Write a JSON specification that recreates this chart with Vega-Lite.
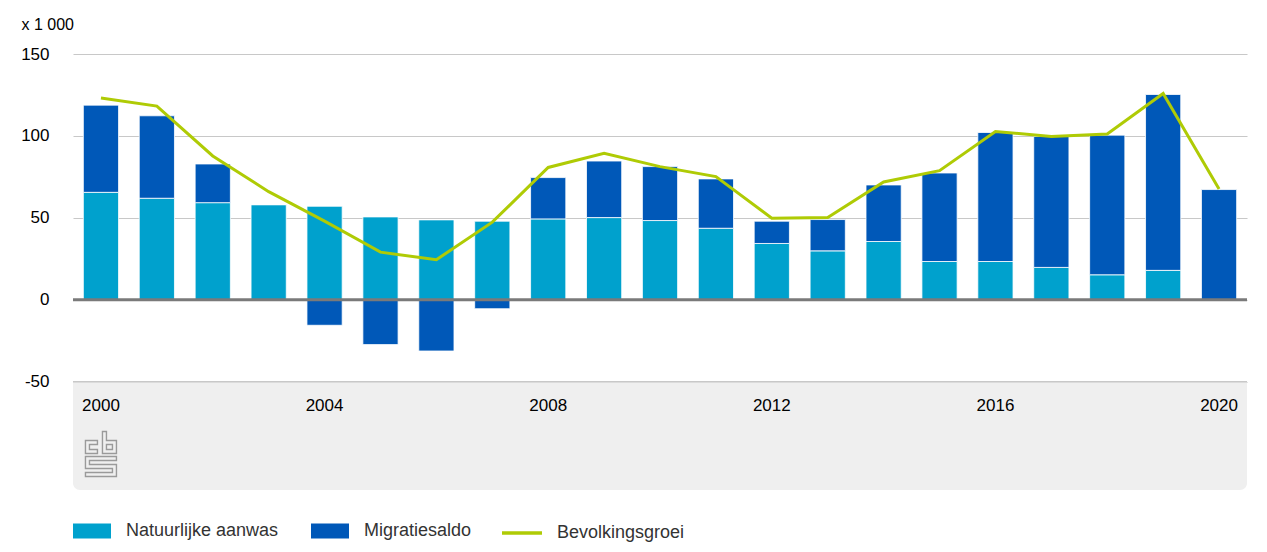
{
  "$schema": "https://vega.github.io/schema/vega-lite/v6.json",
  "width": 1174,
  "height": 436,
  "autosize": "none",
  "padding": {"left": 73, "top": 54, "right": 20, "bottom": 62},
  "background": "#ffffff",
  "config": {
    "view": {"stroke": null},
    "font": "Liberation Sans",
    "axis": {"labelFont": "Liberation Sans", "titleFont": "Liberation Sans"},
    "legend": {"labelFont": "Liberation Sans"}
  },
  "datasets": {
    "bars": [
      {"year": 2000, "series": "Natuurlijke aanwas", "ord": 1, "value": 65.6},
      {"year": 2000, "series": "Migratiesaldo", "ord": 2, "value": 53.2},
      {"year": 2001, "series": "Natuurlijke aanwas", "ord": 1, "value": 62.0},
      {"year": 2001, "series": "Migratiesaldo", "ord": 2, "value": 50.3},
      {"year": 2002, "series": "Natuurlijke aanwas", "ord": 1, "value": 59.3},
      {"year": 2002, "series": "Migratiesaldo", "ord": 2, "value": 23.6},
      {"year": 2003, "series": "Natuurlijke aanwas", "ord": 1, "value": 58.1},
      {"year": 2003, "series": "Migratiesaldo", "ord": 2, "value": 0.0},
      {"year": 2004, "series": "Natuurlijke aanwas", "ord": 1, "value": 57.1},
      {"year": 2004, "series": "Migratiesaldo", "ord": 2, "value": -15.5},
      {"year": 2005, "series": "Natuurlijke aanwas", "ord": 1, "value": 50.6},
      {"year": 2005, "series": "Migratiesaldo", "ord": 2, "value": -27.3},
      {"year": 2006, "series": "Natuurlijke aanwas", "ord": 1, "value": 48.8},
      {"year": 2006, "series": "Migratiesaldo", "ord": 2, "value": -31.2},
      {"year": 2007, "series": "Natuurlijke aanwas", "ord": 1, "value": 48.0},
      {"year": 2007, "series": "Migratiesaldo", "ord": 2, "value": -5.4},
      {"year": 2008, "series": "Natuurlijke aanwas", "ord": 1, "value": 49.4},
      {"year": 2008, "series": "Migratiesaldo", "ord": 2, "value": 25.2},
      {"year": 2009, "series": "Natuurlijke aanwas", "ord": 1, "value": 50.2},
      {"year": 2009, "series": "Migratiesaldo", "ord": 2, "value": 34.5},
      {"year": 2010, "series": "Natuurlijke aanwas", "ord": 1, "value": 48.4},
      {"year": 2010, "series": "Migratiesaldo", "ord": 2, "value": 32.9},
      {"year": 2011, "series": "Natuurlijke aanwas", "ord": 1, "value": 43.7},
      {"year": 2011, "series": "Migratiesaldo", "ord": 2, "value": 30.1},
      {"year": 2012, "series": "Natuurlijke aanwas", "ord": 1, "value": 34.4},
      {"year": 2012, "series": "Migratiesaldo", "ord": 2, "value": 13.6},
      {"year": 2013, "series": "Natuurlijke aanwas", "ord": 1, "value": 29.9},
      {"year": 2013, "series": "Migratiesaldo", "ord": 2, "value": 19.1},
      {"year": 2014, "series": "Natuurlijke aanwas", "ord": 1, "value": 35.6},
      {"year": 2014, "series": "Migratiesaldo", "ord": 2, "value": 34.5},
      {"year": 2015, "series": "Natuurlijke aanwas", "ord": 1, "value": 23.4},
      {"year": 2015, "series": "Migratiesaldo", "ord": 2, "value": 54.0},
      {"year": 2016, "series": "Natuurlijke aanwas", "ord": 1, "value": 23.4},
      {"year": 2016, "series": "Migratiesaldo", "ord": 2, "value": 78.7},
      {"year": 2017, "series": "Natuurlijke aanwas", "ord": 1, "value": 19.8},
      {"year": 2017, "series": "Migratiesaldo", "ord": 2, "value": 79.9},
      {"year": 2018, "series": "Natuurlijke aanwas", "ord": 1, "value": 15.3},
      {"year": 2018, "series": "Migratiesaldo", "ord": 2, "value": 85.2},
      {"year": 2019, "series": "Natuurlijke aanwas", "ord": 1, "value": 18.0},
      {"year": 2019, "series": "Migratiesaldo", "ord": 2, "value": 107.3},
      {"year": 2020, "series": "Natuurlijke aanwas", "ord": 1, "value": 0.0},
      {"year": 2020, "series": "Migratiesaldo", "ord": 2, "value": 67.3}
    ],
    "growth": [
      {"year": 2000, "series": "Bevolkingsgroei", "growth": 123.2},
      {"year": 2001, "series": "Bevolkingsgroei", "growth": 118.2},
      {"year": 2002, "series": "Bevolkingsgroei", "growth": 87.8},
      {"year": 2003, "series": "Bevolkingsgroei", "growth": 66.0},
      {"year": 2004, "series": "Bevolkingsgroei", "growth": 48.0},
      {"year": 2005, "series": "Bevolkingsgroei", "growth": 29.1},
      {"year": 2006, "series": "Bevolkingsgroei", "growth": 24.5},
      {"year": 2007, "series": "Bevolkingsgroei", "growth": 47.4},
      {"year": 2008, "series": "Bevolkingsgroei", "growth": 80.8},
      {"year": 2009, "series": "Bevolkingsgroei", "growth": 89.4},
      {"year": 2010, "series": "Bevolkingsgroei", "growth": 81.3},
      {"year": 2011, "series": "Bevolkingsgroei", "growth": 75.2},
      {"year": 2012, "series": "Bevolkingsgroei", "growth": 49.8},
      {"year": 2013, "series": "Bevolkingsgroei", "growth": 50.2},
      {"year": 2014, "series": "Bevolkingsgroei", "growth": 71.9},
      {"year": 2015, "series": "Bevolkingsgroei", "growth": 78.8},
      {"year": 2016, "series": "Bevolkingsgroei", "growth": 102.7},
      {"year": 2017, "series": "Bevolkingsgroei", "growth": 99.7},
      {"year": 2018, "series": "Bevolkingsgroei", "growth": 101.2},
      {"year": 2019, "series": "Bevolkingsgroei", "growth": 125.9},
      {"year": 2020, "series": "Bevolkingsgroei", "growth": 67.7}
    ]
  },
  "layer": [
    {
      "data": {"name": "bars"},
      "mark": {"type": "bar", "stroke": "#ffffff", "strokeWidth": 0.8},
      "encoding": {
        "x": {
          "field": "year",
          "type": "ordinal",
          "scale": {"paddingInner": 0.37, "paddingOuter": 0.185},
          "axis": {
            "orient": "bottom",
            "offset": -108,
            "values": [2000, 2004, 2008, 2012, 2016, 2020],
            "labelAngle": 0,
            "labelFontSize": 17,
            "labelColor": "#000000",
            "labelPadding": 15,
            "domain": false,
            "ticks": false,
            "grid": false,
            "title": null,
            "zindex": 1
          }
        },
        "y": {
          "field": "value",
          "type": "quantitative",
          "stack": "zero",
          "scale": {"domain": [-116, 150], "nice": false, "zero": false},
          "axis": {
            "values": [-50, 0, 50, 100, 150],
            "labelExpr": "datum.value < 0 ? '-' + abs(datum.value) : '' + datum.value",
            "grid": true,
            "gridColor": "#c8c8c8",
            "gridWidth": 1.2,
            "domain": false,
            "ticks": false,
            "labelFontSize": 17,
            "labelColor": "#000000",
            "labelPadding": 24,
            "title": "x 1 000",
            "titleAngle": 0,
            "titleAlign": "left",
            "titleBaseline": "middle",
            "titleX": -52,
            "titleY": -30,
            "titleFontSize": 16,
            "titleFontWeight": "normal",
            "titleColor": "#000000"
          }
        },
        "color": {
          "field": "series",
          "type": "nominal",
          "scale": {
            "domain": ["Natuurlijke aanwas", "Migratiesaldo"],
            "range": ["#00a1cd", "#0058b8"]
          },
          "legend": {
            "orient": "none",
            "legendX": 0,
            "legendY": 458,
            "direction": "horizontal",
            "title": null,
            "labelFontSize": 18,
            "labelColor": "#333333",
            "labelOffset": 15,
            "columnPadding": 32,
            "symbolSize": 1444,
            "symbolType": "M-1,-0.395H1V0.395H-1Z",
            "symbolStrokeWidth": 0,
            "symbolOpacity": 1
          }
        },
        "order": {"field": "ord", "type": "quantitative"}
      }
    },
    {
      "data": {"values": [{}]},
      "mark": {"type": "rect", "color": "#efefef", "cornerRadiusBottomLeft": 7, "cornerRadiusBottomRight": 7},
      "encoding": {
        "y": {"datum": -50, "type": "quantitative"},
        "y2": {"datum": -116}
      }
    },
    {
      "data": {"values": [{}]},
      "mark": {"type": "rule", "color": "#c8c8c8", "strokeWidth": 1.5},
      "encoding": {"y": {"datum": -50, "type": "quantitative"}}
    },
    {
      "data": {"values": [{}]},
      "mark": {"type": "rule", "color": "#7a7a7a", "strokeWidth": 3},
      "encoding": {"y": {"datum": 0, "type": "quantitative"}}
    },
    {
      "data": {"name": "growth"},
      "mark": {"type": "line", "strokeWidth": 3},
      "encoding": {
        "x": {"field": "year", "type": "ordinal"},
        "y": {"field": "growth", "type": "quantitative"},
        "stroke": {
          "field": "series",
          "type": "nominal",
          "scale": {"domain": ["Bevolkingsgroei"], "range": ["#afcb05"]},
          "legend": {
            "orient": "none",
            "legendX": 427,
            "legendY": 457,
            "direction": "horizontal",
            "title": null,
            "labelFontSize": 18,
            "labelColor": "#333333",
            "labelOffset": 13,
            "symbolSize": 1600,
            "symbolType": "stroke",
            "symbolStrokeWidth": 3.5,
            "symbolOpacity": 1
          }
        }
      }
    },
    {
      "data": {"values": [{}]},
      "mark": {
        "type": "point",
        "filled": false,
        "stroke": "#9a9a9a",
        "strokeWidth": 1.4,
        "opacity": 1,
        "size": 4,
        "shape": "M-15.5,-13.5H-3.5V-9.5H-11.5V-4.5H-3.5V-0.5H-15.5Z M1.5,-22.5H5.5V-13.5H15.5V-0.5H1.5Z M5.5,-9.5H11.5V-4.5H5.5Z M-15.5,2.5H15.5V6.5H-11.5V10.5H15.5V22.5H-15.5V18.5H11.5V14.5H-15.5Z"
      },
      "encoding": {
        "x": {"datum": 2000, "type": "ordinal"},
        "y": {"datum": -94, "type": "quantitative"}
      }
    }
  ]
}
